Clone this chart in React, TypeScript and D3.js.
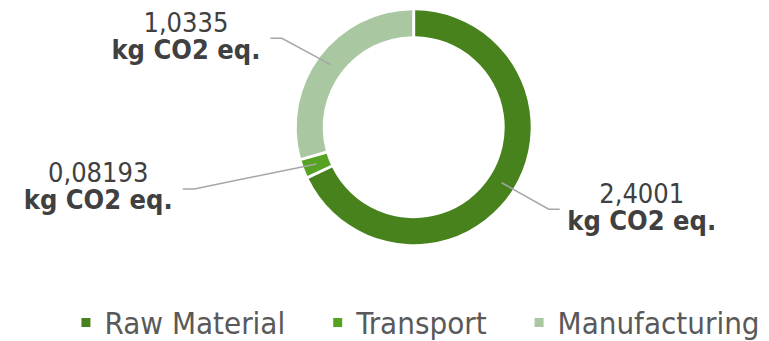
import React, { useEffect, useRef } from 'react';
import * as d3 from 'd3';

const categories: string[] = ['Raw Material', 'Transport', 'Manufacturing'];
const values: number[] = [2.4001, 0.08193, 1.0335];
const unitLabel = 'kg CO2 eq.';
const colors: string[] = ['#47821d', '#56a323', '#a9c7a1'];

const W = 769;
const H = 341;
const CX = 413.7;
const CY = 127.2;
const R_OUT = 117;
const R_IN = 91;
const FONT = "'DejaVu Sans Condensed', 'DejaVu Sans', Verdana, sans-serif";

// elbow of each leader line: distance from centre and angle shift (degrees) from slice middle
const labelLayout = [
  { r: 158, shift: -1 },
  { r: 228, shift: 5 },
  { r: 159, shift: -3 },
];

const fmt = (v: number) => String(v).replace('.', ',');

export default function App() {
  const ref = useRef<SVGSVGElement | null>(null);

  useEffect(() => {
    const svg = d3.select(ref.current);
    svg.selectAll('*').remove();

    const pie = d3
      .pie<number>()
      .sort(null)
      .value((d) => d)
      .startAngle(0)
      .endAngle(2 * Math.PI)
      .padAngle(0.02);
    const arcs = pie(values);
    const arc = d3.arc<d3.PieArcDatum<number>>().innerRadius(R_IN).outerRadius(R_OUT);

    const g = svg.append('g').attr('transform', `translate(${CX},${CY})`);
    g.selectAll('path.slice')
      .data(arcs)
      .join('path')
      .attr('class', 'slice')
      .attr('d', arc as any)
      .attr('fill', (_d, i) => colors[i]);

    arcs.forEach((a, i) => {
      const [sx, sy] = arc.centroid(a);
      const mid = (a.startAngle + a.endAngle) / 2 + (labelLayout[i].shift * Math.PI) / 180;
      const ex = Math.sin(mid) * labelLayout[i].r;
      const ey = -Math.cos(mid) * labelLayout[i].r;
      const right = ex > 0;
      const hx = ex + (right ? 11 : -11.5);
      g.append('path')
        .attr('d', d3.line()([[sx, sy], [ex, ey], [hx, ey]]) as string)
        .attr('fill', 'none')
        .attr('stroke', '#a6a6a6')
        .attr('stroke-width', 1.5);
      const tx = hx + (right ? 82 : -84.5);
      const t = g
        .append('text')
        .attr('text-anchor', 'middle')
        .attr('font-family', FONT)
        .attr('font-size', 27)
        .attr('fill', '#404040');
      t.append('tspan').attr('x', tx).attr('y', ey - 6.5).text(fmt(values[i]));
      t.append('tspan')
        .attr('x', tx)
        .attr('y', ey + 20.5)
        .attr('font-weight', 'bold')
        .text(unitLabel);
    });

    // legend
    const sq = 9;
    const sqGap = 14;
    const itemGap = 48;
    const lg = svg.append('g');
    const items = categories.map((c, i) => {
      const t = lg
        .append('text')
        .attr('y', 334.3)
        .attr('font-family', FONT)
        .attr('font-size', 31)
        .attr('fill', '#595959')
        .text(c);
      const w = (t.node() as SVGTextElement).getComputedTextLength();
      return { t, w, i };
    });
    const total = items.reduce((s, it) => s + sq + sqGap + it.w, 0) + itemGap * (items.length - 1);
    let x = 420.5 - total / 2;
    items.forEach((it) => {
      lg.append('rect')
        .attr('x', x)
        .attr('y', 318)
        .attr('width', sq)
        .attr('height', sq)
        .attr('fill', colors[it.i]);
      it.t.attr('x', x + sq + sqGap);
      x += sq + sqGap + it.w + itemGap;
    });
  }, []);

  return (
    <svg
      ref={ref}
      width={W}
      height={H}
      style={{ position: 'absolute', left: 0, top: 0, background: '#fff' }}
    />
  );
}
